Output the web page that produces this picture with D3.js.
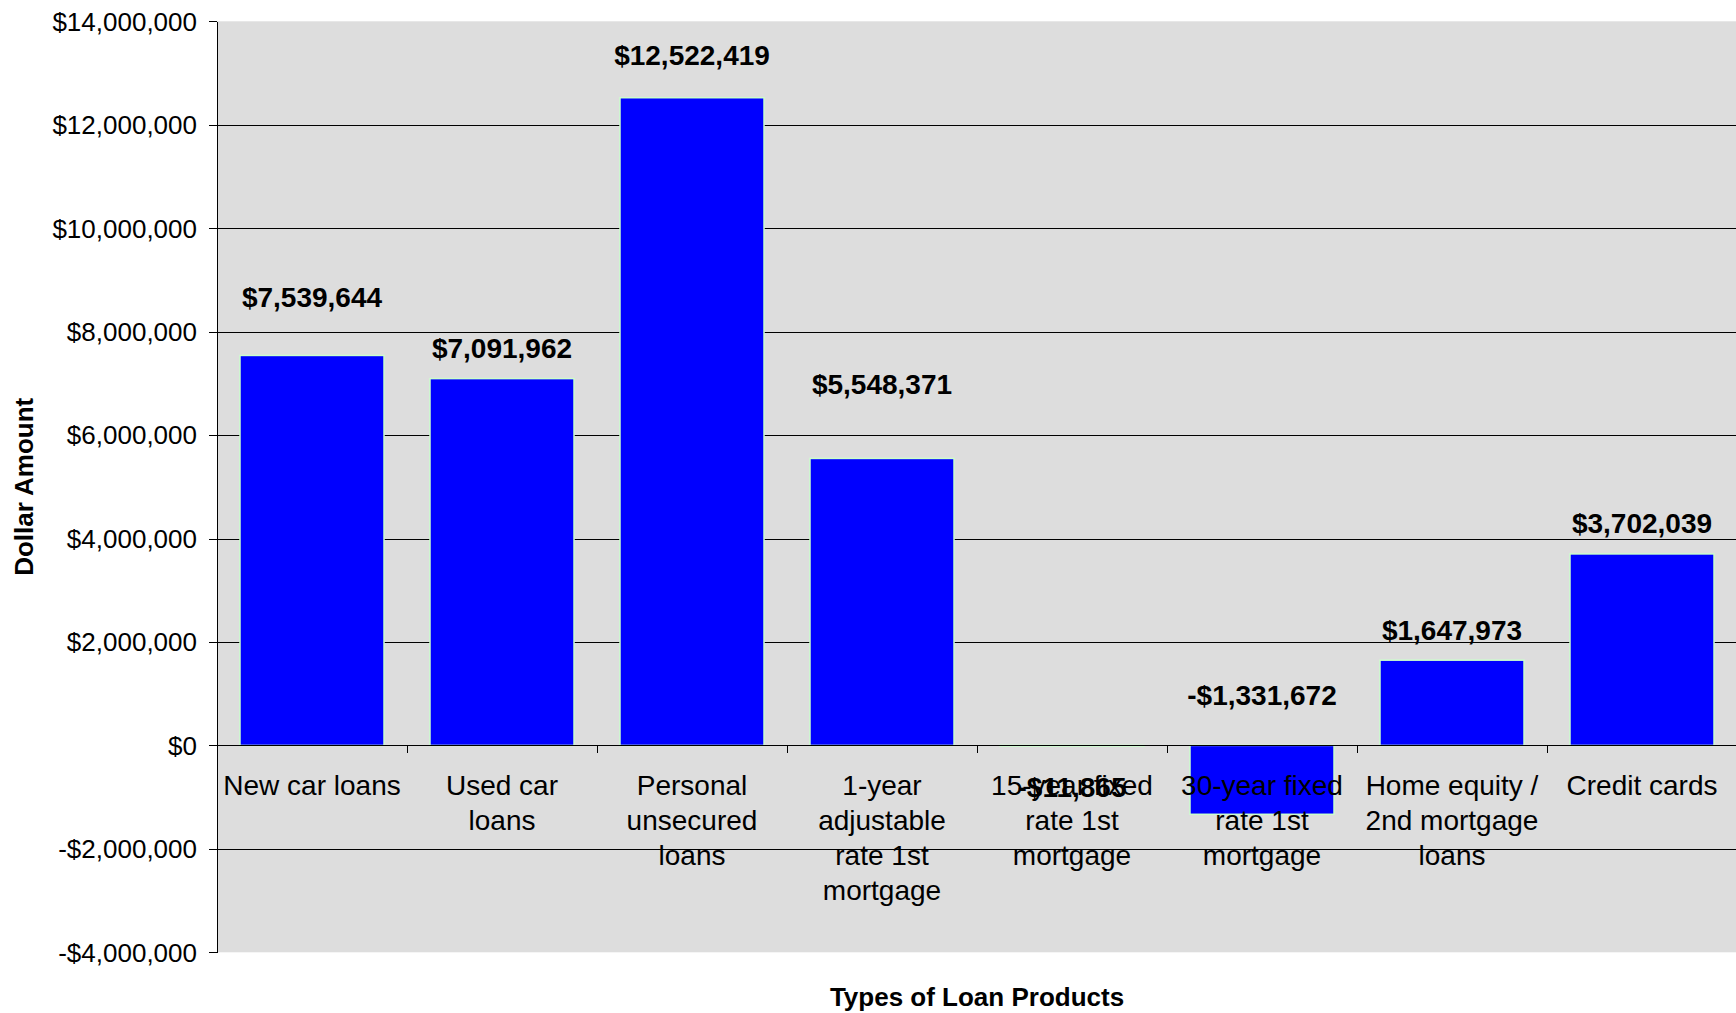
<!DOCTYPE html>
<html>
<head>
<meta charset="utf-8">
<script src="https://cdn.jsdelivr.net/npm/d3@7/dist/d3.min.js"></script>
<style>
  html, body { margin: 0; padding: 0; background: #ffffff; }
  svg { display: block; }
  text { font-family: "Liberation Sans", Arial, Helvetica, sans-serif; fill: #000; }
</style>
</head>
<body>
<svg id="chart" width="1736" height="1013"></svg>
<script>
// ---- data ----
const categories = [
  "New car loans",
  "Used car loans",
  "Personal unsecured loans",
  "1-year adjustable rate 1st mortgage",
  "15-year fixed rate 1st mortgage",
  "30-year fixed rate 1st mortgage",
  "Home equity / 2nd mortgage loans",
  "Credit cards"
];
const values = [7539644, 7091962, 12522419, 5548371, -11865, -1331672, 1647973, 3702039];
const yTicks = [-4000000, -2000000, 0, 2000000, 4000000, 6000000, 8000000, 10000000, 12000000, 14000000];
const xTitle = "Types of Loan Products";
const yTitle = "Dollar Amount";

// ---- layout (not data) ----
const W = 1736, H = 1013;
const plot = { left: 217, right: 1737, top: 21.3, bottom: 952.3 };
const labelDy = [-48, -21, -33, -64, 51, -109, -20, -21];

const fmt = d => (d < 0 ? "-" : "") + "$" + d3.format(",")(Math.abs(d));

const svg = d3.select("#chart");

const y = d3.scaleLinear().domain([-4000000, 14000000]).range([plot.bottom, plot.top]);
const x = d3.scaleBand().domain(categories).range([plot.left, plot.right])
  .paddingInner(0.242).paddingOuter(0.121);
const idx = d3.scaleLinear().domain([0, categories.length]).range([plot.left, plot.right]);

// plot background
svg.append("rect")
  .attr("x", plot.left).attr("y", plot.top)
  .attr("width", plot.right - plot.left).attr("height", plot.bottom - plot.top)
  .attr("fill", "#dddddd");

// gridlines
svg.append("g")
  .attr("transform", `translate(${plot.left},0)`)
  .call(d3.axisLeft(y).tickValues(yTicks.filter(v => v !== 0 && v !== 14000000 && v !== -4000000))
    .tickSize(-(plot.right - plot.left)).tickFormat(""))
  .call(g => g.select(".domain").remove())
  .call(g => g.selectAll("line").attr("stroke", "#000").attr("stroke-width", 1).attr("shape-rendering", "crispEdges"));

// bars
svg.append("g").selectAll("rect")
  .data(values)
  .join("rect")
  .attr("x", (d, i) => x(categories[i]))
  .attr("width", x.bandwidth())
  .attr("y", d => Math.min(y(d), y(0)))
  .attr("height", d => Math.abs(y(d) - y(0)))
  .attr("fill", "#0000ff")
  .attr("stroke", "#ccffcc")
  .attr("stroke-width", 1.5);

// y axis
const yAxis = svg.append("g")
  .attr("transform", `translate(${plot.left},0)`)
  .call(d3.axisLeft(y).tickValues(yTicks).tickSize(8).tickSizeOuter(0).tickPadding(12).tickFormat(fmt));
yAxis.selectAll("text").style("font-size", "26px").attr("dy", "0.34em");
yAxis.selectAll("line, path").attr("stroke", "#000").attr("shape-rendering", "crispEdges");

// x (category) axis at zero
const xAxis = svg.append("g")
  .attr("transform", `translate(0,${y(0)})`)
  .call(d3.axisBottom(idx).tickValues(d3.range(1, categories.length + 1)).tickSize(8).tickSizeOuter(0).tickFormat(""));
xAxis.selectAll("line, path").attr("stroke", "#000").attr("shape-rendering", "crispEdges");

// category labels (wrapped)
const catG = svg.append("g");
const maxW = 180;
categories.forEach((c, i) => {
  const cx = x(c) + x.bandwidth() / 2;
  const t = catG.append("text")
    .attr("x", cx).attr("y", y(0) + 49.5)
    .attr("text-anchor", "middle")
    .style("font-size", "28px");
  const words = c.split(" ");
  let line = [];
  let tspan = t.append("tspan").attr("x", cx).attr("dy", 0);
  words.forEach(w => {
    line.push(w);
    tspan.text(line.join(" "));
    if (tspan.node().getComputedTextLength() > maxW && line.length > 1) {
      line.pop();
      tspan.text(line.join(" "));
      line = [w];
      tspan = t.append("tspan").attr("x", cx).attr("dy", 35).text(w);
    }
  });
});

// value labels
svg.append("g").selectAll("text")
  .data(values)
  .join("text")
  .attr("x", (d, i) => x(categories[i]) + x.bandwidth() / 2)
  .attr("y", (d, i) => y(d) + labelDy[i])
  .attr("text-anchor", "middle")
  .style("font-size", "28px")
  .style("font-weight", "bold")
  .text(d => fmt(d));

// axis titles
svg.append("text")
  .attr("x", (plot.left + plot.right) / 2).attr("y", 1006)
  .attr("text-anchor", "middle")
  .style("font-size", "26px").style("font-weight", "bold")
  .text(xTitle);

svg.append("text")
  .attr("transform", `translate(33,${(plot.top + plot.bottom) / 2}) rotate(-90)`)
  .attr("text-anchor", "middle")
  .style("font-size", "26px").style("font-weight", "bold")
  .text(yTitle);
</script>
</body>
</html>
